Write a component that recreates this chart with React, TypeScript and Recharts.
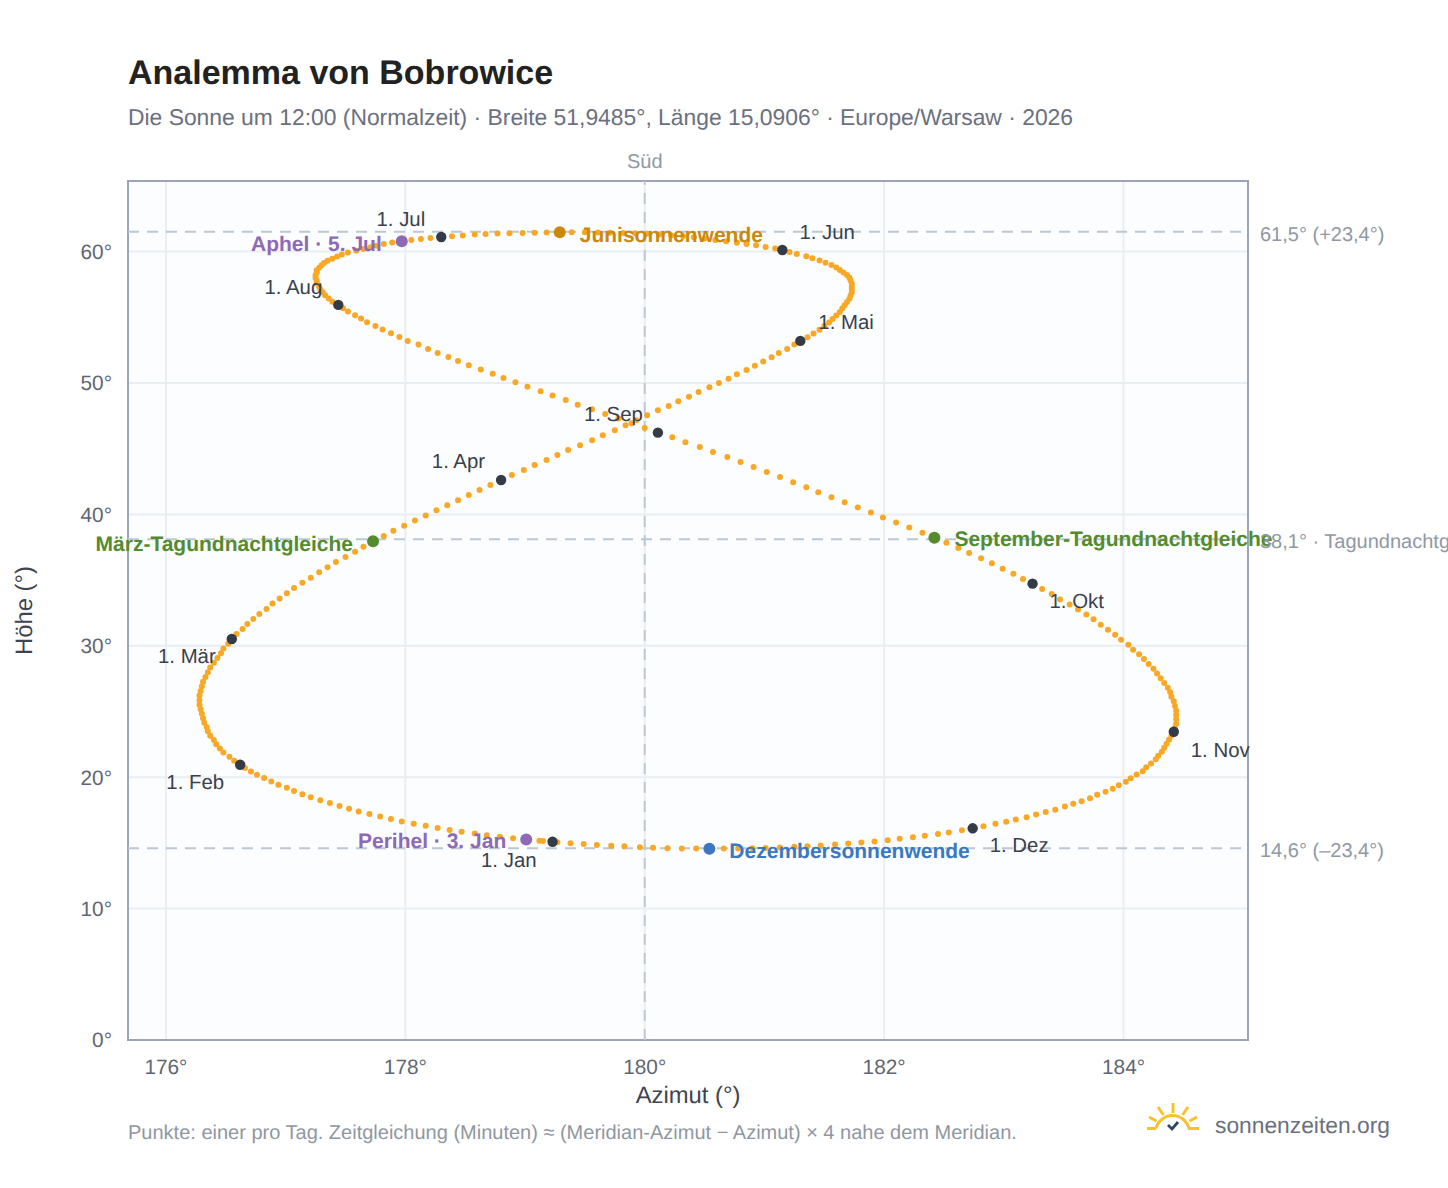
import { ScatterChart, Scatter, XAxis, YAxis, CartesianGrid, ReferenceLine, ReferenceArea } from 'recharts';

// one dot per day, month by month
const janAz = [179.23, 179.12, 179.01, 178.90, 178.79, 178.68, 178.58, 178.47, 178.37, 178.27, 178.17, 178.07, 177.97, 177.88, 177.79, 177.70, 177.61, 177.53, 177.45, 177.37, 177.29, 177.21, 177.14, 177.07, 177.01, 176.94, 176.88, 176.82, 176.76, 176.71, 176.66];
const janAlt = [15.09, 15.17, 15.26, 15.36, 15.47, 15.59, 15.71, 15.85, 15.99, 16.14, 16.30, 16.46, 16.63, 16.81, 17.00, 17.19, 17.39, 17.60, 17.81, 18.03, 18.25, 18.48, 18.71, 18.95, 19.19, 19.43, 19.68, 19.93, 20.18, 20.43, 20.69];
const febAz = [176.62, 176.57, 176.53, 176.48, 176.45, 176.42, 176.40, 176.37, 176.35, 176.34, 176.32, 176.31, 176.30, 176.29, 176.28, 176.28, 176.28, 176.29, 176.30, 176.31, 176.33, 176.35, 176.37, 176.40, 176.43, 176.46, 176.48, 176.52];
const febAlt = [20.95, 21.25, 21.56, 21.87, 22.19, 22.51, 22.83, 23.16, 23.49, 23.82, 24.15, 24.49, 24.83, 25.17, 25.51, 25.86, 26.21, 26.56, 26.92, 27.27, 27.63, 27.99, 28.35, 28.71, 29.07, 29.44, 29.80, 30.16];
const marAz = [176.55, 176.59, 176.64, 176.68, 176.73, 176.78, 176.84, 176.89, 176.95, 177.01, 177.07, 177.14, 177.21, 177.28, 177.35, 177.42, 177.50, 177.58, 177.65, 177.73, 177.82, 177.90, 177.99, 178.08, 178.17, 178.26, 178.35, 178.44, 178.53, 178.62, 178.71];
const marAlt = [30.52, 30.90, 31.28, 31.66, 32.04, 32.42, 32.80, 33.21, 33.59, 33.99, 34.40, 34.80, 35.18, 35.59, 35.97, 36.38, 36.76, 37.16, 37.54, 37.95, 38.36, 38.76, 39.14, 39.53, 39.92, 40.31, 40.70, 41.08, 41.47, 41.85, 42.24];
const aprAz = [178.80, 178.89, 178.99, 179.08, 179.18, 179.27, 179.36, 179.46, 179.56, 179.65, 179.75, 179.84, 179.93, 180.02, 180.11, 180.20, 180.28, 180.37, 180.45, 180.54, 180.62, 180.70, 180.77, 180.85, 180.92, 180.99, 181.06, 181.12, 181.19, 181.25];
const aprAlt = [42.62, 43.00, 43.38, 43.76, 44.14, 44.51, 44.89, 45.27, 45.65, 46.02, 46.40, 46.78, 47.16, 47.54, 47.92, 48.25, 48.61, 48.96, 49.32, 49.67, 50.00, 50.33, 50.66, 50.99, 51.32, 51.63, 51.96, 52.28, 52.59, 52.92];
const mayAz = [181.30, 181.36, 181.41, 181.46, 181.50, 181.54, 181.57, 181.60, 181.63, 181.65, 181.67, 181.69, 181.71, 181.72, 181.73, 181.73, 181.73, 181.73, 181.72, 181.71, 181.69, 181.66, 181.63, 181.60, 181.56, 181.51, 181.46, 181.40, 181.35, 181.27, 181.21];
const mayAlt = [53.20, 53.48, 53.76, 54.05, 54.33, 54.60, 54.87, 55.14, 55.40, 55.66, 55.91, 56.16, 56.41, 56.65, 56.89, 57.12, 57.35, 57.57, 57.79, 58.00, 58.21, 58.41, 58.60, 58.79, 58.97, 59.15, 59.32, 59.49, 59.65, 59.81, 59.97];
const junAz = [181.15, 181.09, 181.01, 180.93, 180.85, 180.77, 180.68, 180.59, 180.50, 180.41, 180.32, 180.22, 180.12, 180.02, 179.92, 179.82, 179.71, 179.61, 179.50, 179.39, 179.29, 179.18, 179.08, 178.98, 178.87, 178.77, 178.67, 178.58, 178.48, 178.39];
const junAlt = [60.12, 60.23, 60.35, 60.48, 60.58, 60.68, 60.78, 60.88, 61.00, 61.09, 61.17, 61.24, 61.30, 61.35, 61.39, 61.42, 61.44, 61.46, 61.47, 61.47, 61.47, 61.45, 61.44, 61.42, 61.40, 61.37, 61.33, 61.29, 61.23, 61.17];
const julAz = [178.30, 178.21, 178.13, 178.05, 177.97, 177.89, 177.82, 177.76, 177.71, 177.65, 177.59, 177.52, 177.47, 177.43, 177.39, 177.35, 177.32, 177.30, 177.28, 177.26, 177.26, 177.25, 177.25, 177.26, 177.26, 177.28, 177.29, 177.31, 177.33, 177.36, 177.39];
const julAlt = [61.11, 61.04, 60.96, 60.88, 60.79, 60.69, 60.57, 60.45, 60.33, 60.20, 60.06, 59.92, 59.77, 59.62, 59.46, 59.30, 59.13, 58.95, 58.77, 58.58, 58.39, 58.19, 57.99, 57.78, 57.57, 57.35, 57.13, 56.90, 56.67, 56.43, 56.19];
const augAz = [177.44, 177.48, 177.52, 177.58, 177.63, 177.68, 177.75, 177.81, 177.88, 177.95, 178.02, 178.11, 178.19, 178.27, 178.36, 178.44, 178.53, 178.63, 178.73, 178.82, 178.92, 179.02, 179.13, 179.23, 179.34, 179.44, 179.56, 179.67, 179.78, 179.89, 180.00];
const augAlt = [55.94, 55.68, 55.43, 55.15, 54.90, 54.62, 54.34, 54.06, 53.78, 53.50, 53.20, 52.92, 52.59, 52.29, 51.98, 51.68, 51.35, 51.02, 50.71, 50.38, 50.05, 49.72, 49.37, 49.04, 48.71, 48.35, 48.00, 47.64, 47.29, 46.93, 46.58];
const sepAz = [180.11, 180.23, 180.34, 180.46, 180.57, 180.69, 180.80, 180.91, 181.02, 181.13, 181.24, 181.35, 181.45, 181.56, 181.67, 181.78, 181.89, 181.99, 182.10, 182.21, 182.32, 182.42, 182.52, 182.62, 182.71, 182.81, 182.90, 182.99, 183.08, 183.16];
const sepAlt = [46.22, 45.86, 45.49, 45.12, 44.74, 44.36, 43.98, 43.60, 43.22, 42.84, 42.45, 42.07, 41.68, 41.30, 40.92, 40.53, 40.15, 39.76, 39.38, 39.00, 38.61, 38.23, 37.85, 37.44, 37.06, 36.66, 36.28, 35.87, 35.49, 35.08];
const octAz = [183.24, 183.32, 183.40, 183.47, 183.55, 183.62, 183.69, 183.75, 183.81, 183.87, 183.93, 183.98, 184.04, 184.08, 184.13, 184.17, 184.21, 184.25, 184.28, 184.31, 184.34, 184.37, 184.39, 184.40, 184.42, 184.43, 184.44, 184.44, 184.44, 184.44, 184.43];
const octAlt = [34.73, 34.32, 33.94, 33.53, 33.15, 32.77, 32.39, 32.01, 31.60, 31.22, 30.84, 30.46, 30.08, 29.70, 29.35, 28.99, 28.61, 28.26, 27.90, 27.52, 27.17, 26.81, 26.46, 26.13, 25.77, 25.41, 25.06, 24.73, 24.40, 24.07, 23.74];
const novAz = [184.42, 184.40, 184.38, 184.36, 184.34, 184.32, 184.29, 184.27, 184.23, 184.19, 184.16, 184.11, 184.06, 184.02, 183.96, 183.91, 183.85, 183.78, 183.72, 183.65, 183.58, 183.51, 183.43, 183.35, 183.27, 183.19, 183.10, 183.02, 182.93, 182.83];
const novAlt = [23.46, 23.16, 22.85, 22.55, 22.24, 21.94, 21.63, 21.36, 21.05, 20.75, 20.46, 20.20, 19.92, 19.66, 19.38, 19.12, 18.89, 18.66, 18.40, 18.17, 17.97, 17.76, 17.53, 17.35, 17.17, 16.96, 16.78, 16.60, 16.45, 16.27];
const decAz = [182.74, 182.65, 182.54, 182.45, 182.34, 182.24, 182.13, 182.03, 181.92, 181.81, 181.70, 181.59, 181.47, 181.36, 181.25, 181.13, 181.01, 180.90, 180.78, 180.66, 180.54, 180.43, 180.31, 180.19, 180.07, 179.96, 179.83, 179.72, 179.60, 179.49, 179.38, 179.27, 179.15];
const decAlt = [16.11, 15.96, 15.80, 15.67, 15.55, 15.42, 15.32, 15.21, 15.11, 15.03, 14.95, 14.88, 14.80, 14.75, 14.70, 14.65, 14.62, 14.60, 14.58, 14.57, 14.56, 14.57, 14.58, 14.60, 14.63, 14.67, 14.74, 14.79, 14.84, 14.92, 14.97, 15.05, 15.14];

const monthLabels = ['1. Jan', '1. Feb', '1. Mär', '1. Apr', '1. Mai', '1. Jun', '1. Jul', '1. Aug', '1. Sep', '1. Okt', '1. Nov', '1. Dez'];
const monthAz = [179.23, 176.62, 176.55, 178.80, 181.30, 181.15, 178.30, 177.44, 180.11, 183.24, 184.42, 182.74];
const monthAlt = [15.09, 20.95, 30.52, 42.62, 53.20, 60.12, 61.11, 55.94, 46.22, 34.73, 23.46, 16.11];

const eventLabels = ['März-Tagundnachtgleiche', 'Junisonnenwende', 'September-Tagundnachtgleiche', 'Dezembersonnenwende', 'Aphel · 5. Jul', 'Perihel · 3. Jan'];
const eventAz = [177.73, 179.29, 182.42, 180.54, 177.97, 179.01];
const eventAlt = [37.95, 61.47, 38.23, 14.56, 60.79, 15.26];

const guideAlt = [61.5, 38.1, 14.6];
const guideLabels = ['61,5° (+23,4°)', '38,1° · Tagundnachtgleiche', '14,6° (–23,4°)'];
const xTicks = [176, 178, 180, 182, 184];
const yTicks = [0, 10, 20, 30, 40, 50, 60];

const dailyAz = [janAz, febAz, marAz, aprAz, mayAz, junAz, julAz, augAz, sepAz, octAz, novAz, decAz].flat();
const dailyAlt = [janAlt, febAlt, marAlt, aprAlt, mayAlt, junAlt, julAlt, augAlt, sepAlt, octAlt, novAlt, decAlt].flat();
const dailyData = dailyAz.map((az, i) => ({ az, alt: dailyAlt[i] }));
const monthData = monthAz.map((az, i) => ({ az, alt: monthAlt[i], label: monthLabels[i], index: i }));
const eventData = eventAz.map((az, i) => ({ az, alt: eventAlt[i], label: eventLabels[i], index: i }));

// label placement relative to the marker, same order as the label lists
const monthLabelOffset = [
  [-16, 18, 'end'], [-16, 17, 'end'], [-16, 17, 'end'], [-16, -19, 'end'],
  [18, -19, 'start'], [17, -18, 'start'], [-16, -18, 'end'], [-16, -18, 'end'],
  [-15, -19, 'end'], [17, 17, 'start'], [17, 18, 'start'], [17, 17, 'start'],
];
const eventLabelOffset = [
  [-20, 2, 'end'], [20, 2, 'start'], [20, 1, 'start'], [20, 2, 'start'], [-20, 2, 'end'], [-20, 1, 'end'],
];
const eventColors = ['#558b2f', '#c98a0c', '#558b2f', '#3a78c2', '#8e69b5', '#8e69b5'];

const FONT = '"Liberation Sans", Arial, sans-serif';

function DayDot({ cx, cy }: any) {
  return <circle cx={cx} cy={cy} r={3} fill="#f9a825" />;
}

function MonthMark({ cx, cy, payload }: any) {
  const [dx, dy, anchor] = monthLabelOffset[payload.index] as [number, number, any];
  return (
    <g>
      <circle cx={cx} cy={cy} r={5.2} fill="#343a46" />
      <text x={cx + dx} y={cy + dy} dy="0.35em" textAnchor={anchor} fontSize={20.4} fill="#3a404c">
        {payload.label}
      </text>
    </g>
  );
}

function EventMark({ cx, cy, payload }: any) {
  const [dx, dy, anchor] = eventLabelOffset[payload.index] as [number, number, any];
  const color = eventColors[payload.index];
  return (
    <g>
      <circle cx={cx} cy={cy} r={6} fill={color} />
      <text x={cx + dx} y={cy + dy} dy="0.35em" textAnchor={anchor} fontSize={21} fontWeight="bold" fill={color}>
        {payload.label}
      </text>
    </g>
  );
}

function SunLogo() {
  return (
    <svg width={56} height={34} viewBox="0 0 56 34" style={{ position: 'absolute', left: 1145, top: 1101 }}>
      <g fill="none" stroke="#fbc02d" strokeWidth={3} strokeLinecap="butt">
        <path d="M2 27.5 H11 M43 27.5 H54" />
        <path d="M11 27.5 A17 17 0 0 1 44 27.5" />
        <path d="M28 2 V12 M13 6 L18.5 14 M43 6 L37.5 14 M4 16 L11.5 20 M52 16 L44.5 20" />
      </g>
      <path d="M23 24 L27 28 L33 21" fill="none" stroke="#2c4a6b" strokeWidth={2.8} />
    </svg>
  );
}

export default function App() {
  return (
    <div style={{ position: 'absolute', left: 0, top: 0, width: 1448, height: 1188, overflow: 'hidden', background: '#fff', fontFamily: FONT, textRendering: 'geometricPrecision' }}>
      <div style={{ position: 'absolute', left: 128, top: 54, fontSize: 34, fontWeight: 'bold', color: '#222', whiteSpace: 'nowrap' }}>
        Analemma von Bobrowice
      </div>
      <div style={{ position: 'absolute', left: 128, top: 104, fontSize: 22.87, color: '#6b7080', whiteSpace: 'nowrap' }}>
        Die Sonne um 12:00 (Normalzeit) · Breite 51,9485°, Länge 15,0906° · Europe/Warsaw · 2026
      </div>
      <ScatterChart
        width={1448}
        height={1188}
        margin={{ top: 181, right: 200, bottom: 98, left: 68 }}
        style={{ position: 'absolute', left: 0, top: 0 }}
      >
        <CartesianGrid stroke="#e9eef3" strokeWidth={2} fill="#fbfdff" verticalValues={xTicks} horizontalValues={yTicks} />
        <XAxis
          type="number"
          dataKey="az"
          domain={[175.683, 185.04]}
          ticks={xTicks}
          tickFormatter={(v) => `${v}°`}
          axisLine={false}
          tickLine={false}
          tick={{ fontSize: 20.8, fill: '#5f6672' }}
          tickMargin={13}
          height={50}
          label={{ value: 'Azimut (°)', position: 'insideBottom', offset: -13, fontSize: 23.8, fill: '#3e4550' }}
        />
        <YAxis
          type="number"
          dataKey="alt"
          domain={[0, 65.37]}
          ticks={yTicks}
          tickFormatter={(v) => `${v}°`}
          axisLine={false}
          tickLine={false}
          tick={{ fontSize: 20.8, fill: '#5f6672' }}
          tickMargin={10}
          width={60}
          label={{ value: 'Höhe (°)', angle: -90, position: 'insideLeft', offset: 0, dx: -44, fontSize: 23.8, fill: '#3e4550', style: { textAnchor: 'middle' } }}
        />
        <ReferenceLine
          x={180}
          stroke="#bcc8d4"
          strokeWidth={2}
          strokeDasharray="11 8"
          label={{ value: 'Süd', position: 'top', offset: 13, fontSize: 20, fill: '#8f98a3' }}
        />
        {guideAlt.map((alt, i) => (
          <ReferenceLine
            key={alt}
            y={alt}
            stroke="#bcc8d4"
            strokeWidth={2}
            strokeDasharray="11 8"
            label={{ value: guideLabels[i], position: 'right', offset: 12, dy: 2, fontSize: 20, fill: '#8f98a3' }}
          />
        ))}
        <ReferenceArea x1={175.683} x2={185.04} y1={0} y2={65.37} fill="none" stroke="#9aa6b5" strokeWidth={2} />
        <Scatter data={dailyData} shape={<DayDot />} isAnimationActive={false} />
        <Scatter data={monthData} shape={<MonthMark />} isAnimationActive={false} />
        <Scatter data={eventData} shape={<EventMark />} isAnimationActive={false} />
      </ScatterChart>
      <div style={{ position: 'absolute', left: 128, top: 1122, fontSize: 20, color: '#8f97a1', whiteSpace: 'nowrap' }}>
        Punkte: einer pro Tag. Zeitgleichung (Minuten) ≈ (Meridian-Azimut − Azimut) × 4 nahe dem Meridian.
      </div>
      <SunLogo />
      <div style={{ position: 'absolute', left: 1215, top: 1112, fontSize: 22.8, color: '#6b7080', whiteSpace: 'nowrap' }}>
        sonnenzeiten.org
      </div>
    </div>
  );
}
